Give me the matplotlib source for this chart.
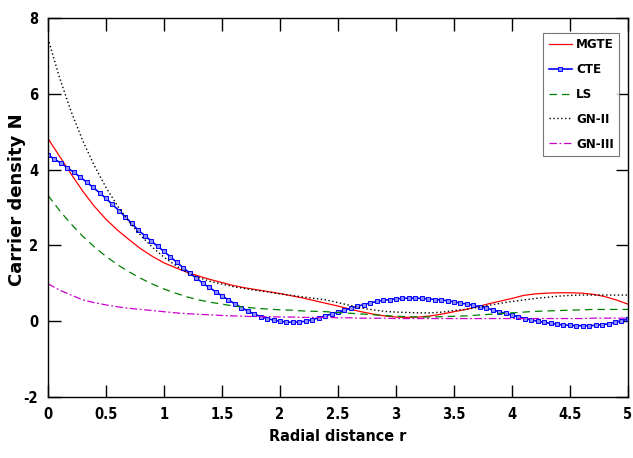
import numpy as np
import matplotlib
matplotlib.use("Agg")
import matplotlib.pyplot as plt
from matplotlib import font_manager

# radial grid (step 0.1) for the smooth curves
r = np.linspace(0, 5, 51)

mgte = [4.82, 4.35, 3.88, 3.43, 3.03, 2.69, 2.40, 2.15, 1.91, 1.71,
        1.54, 1.41, 1.29, 1.19, 1.10, 1.02, 0.94, 0.88, 0.83, 0.78,
        0.73, 0.67, 0.61, 0.54, 0.47, 0.40, 0.32, 0.25, 0.19, 0.14,
        0.11, 0.10, 0.11, 0.14, 0.19, 0.25, 0.31, 0.38, 0.46, 0.53,
        0.60, 0.68, 0.72, 0.74, 0.75, 0.75, 0.74, 0.71, 0.65, 0.56,
        0.45]

ls = [3.32, 2.92, 2.56, 2.24, 1.96, 1.71, 1.49, 1.30, 1.13, 0.98,
      0.85, 0.74, 0.64, 0.56, 0.50, 0.45, 0.40, 0.37, 0.34, 0.32,
      0.30, 0.29, 0.27, 0.26, 0.25, 0.23, 0.21, 0.19, 0.17, 0.15,
      0.13, 0.12, 0.11, 0.11, 0.12, 0.13, 0.14, 0.16, 0.18, 0.20,
      0.22, 0.24, 0.26, 0.27, 0.28, 0.29, 0.30, 0.31, 0.31, 0.31,
      0.31]

gn2 = [7.46, 6.42, 5.53, 4.76, 4.10, 3.53, 3.04, 2.62, 2.26, 1.95,
       1.69, 1.47, 1.28, 1.15, 1.05, 0.98, 0.91, 0.86, 0.81, 0.77,
       0.72, 0.68, 0.64, 0.60, 0.56, 0.49, 0.42, 0.35, 0.30, 0.26,
       0.24, 0.23, 0.22, 0.22, 0.24, 0.28, 0.31, 0.36, 0.42, 0.47,
       0.52, 0.56, 0.60, 0.63, 0.66, 0.68, 0.69, 0.69, 0.69, 0.69,
       0.69]

gn3 = [0.99, 0.82, 0.69, 0.56, 0.49, 0.43, 0.38, 0.34, 0.31, 0.28,
       0.25, 0.22, 0.20, 0.18, 0.17, 0.15, 0.14, 0.13, 0.12, 0.12,
       0.11, 0.11, 0.10, 0.10, 0.10, 0.09, 0.09, 0.08, 0.08, 0.08,
       0.07, 0.07, 0.07, 0.07, 0.07, 0.07, 0.07, 0.07, 0.07, 0.07,
       0.07, 0.07, 0.07, 0.07, 0.07, 0.07, 0.07, 0.08, 0.08, 0.08,
       0.08]

# CTE is drawn with markers, on its own finer grid
r_cte = np.linspace(0, 5, 91)
cte = [4.38, 4.28, 4.17, 4.05, 3.93, 3.80, 3.67, 3.53, 3.39, 3.24,
       3.08, 2.92, 2.75, 2.58, 2.40, 2.26, 2.12, 1.98, 1.84, 1.70,
       1.55, 1.41, 1.27, 1.14, 1.01, 0.89, 0.78, 0.67, 0.56, 0.46,
       0.36, 0.27, 0.19, 0.12, 0.07, 0.03, 0.00, -0.02, -0.03, -0.02,
       0.00, 0.04, 0.09, 0.14, 0.19, 0.24, 0.29, 0.34, 0.39, 0.44,
       0.48, 0.52, 0.55, 0.57, 0.59, 0.60, 0.61, 0.61, 0.60, 0.59,
       0.57, 0.56, 0.54, 0.51, 0.48, 0.45, 0.42, 0.38, 0.34, 0.30,
       0.25, 0.21, 0.16, 0.12, 0.07, 0.03, 0.00, -0.03, -0.06, -0.08,
       -0.10, -0.11, -0.12, -0.12, -0.12, -0.11, -0.09, -0.07, -0.03, 0.01,
       0.06]

x_ticks = [0, 0.5, 1, 1.5, 2, 2.5, 3, 3.5, 4, 4.5, 5]
y_ticks = [-2, 0, 2, 4, 6, 8]

# narrow bold font if one is around (DejaVu Sans Condensed), else Liberation Sans
cond = font_manager.FontProperties(family='DejaVu Sans', stretch='condensed', weight='bold')
if 'Condensed' in font_manager.findfont(cond, fallback_to_default=False):
    nf = dict(family='DejaVu Sans', stretch='condensed', weight='bold')
else:
    nf = dict(family='Liberation Sans', weight='bold')

fig = plt.figure(figsize=(6.33, 4.58), dpi=100)
ax = fig.add_axes([0.0758, 0.1332, 0.9162, 0.8275])

ax.plot(r, mgte, color='red', lw=0.9, label='MGTE')
ax.plot(r_cte, cte, color='blue', lw=1.2, marker='s', markersize=2.4,
        markerfacecolor='#8c8cff', markeredgecolor='blue', markeredgewidth=0.7,
        label='CTE')
ax.plot(r, ls, color='#008000', lw=0.9, ls=(0, (6, 4)), label='LS')
ax.plot(r, gn2, color='black', lw=1.0, ls=(0, (1, 1.8)), label='GN-II')
ax.plot(r, gn3, color='#cc00cc', lw=0.9, ls=(0, (6, 2, 1.5, 2)), label='GN-III')

ax.set_xlim(0, 5)
ax.set_ylim(-2, 8)
ax.set_xticks(x_ticks)
ax.set_yticks(y_ticks)
ax.set_xticklabels([f"{t:g}" for t in x_ticks], fontsize=10.5, **nf)
ax.set_yticklabels([f"{t:g}" for t in y_ticks], fontsize=10.5, **nf)
ax.tick_params(direction='in', length=9, width=1, top=True, right=True, pad=7)
for s in ax.spines.values():
    s.set_linewidth(1)

ax.set_xlabel('Radial distance r', fontsize=11.5, labelpad=5, **nf)
ax.set_ylabel('Carrier density N', fontfamily='DejaVu Sans', fontweight='bold',
              fontsize=13, va='center')
ax.yaxis.set_label_coords(-0.054, 0.52)

leg = ax.legend(loc='upper right', bbox_to_anchor=(0.985, 0.96), fancybox=False,
                edgecolor='#555555', handlelength=1.8, handletextpad=0.3,
                labelspacing=0.9, borderpad=0.4, borderaxespad=0.0,
                prop=dict(size=9.5, **nf))
leg.get_frame().set_linewidth(0.8)

fig.savefig('out.png', dpi=100)
